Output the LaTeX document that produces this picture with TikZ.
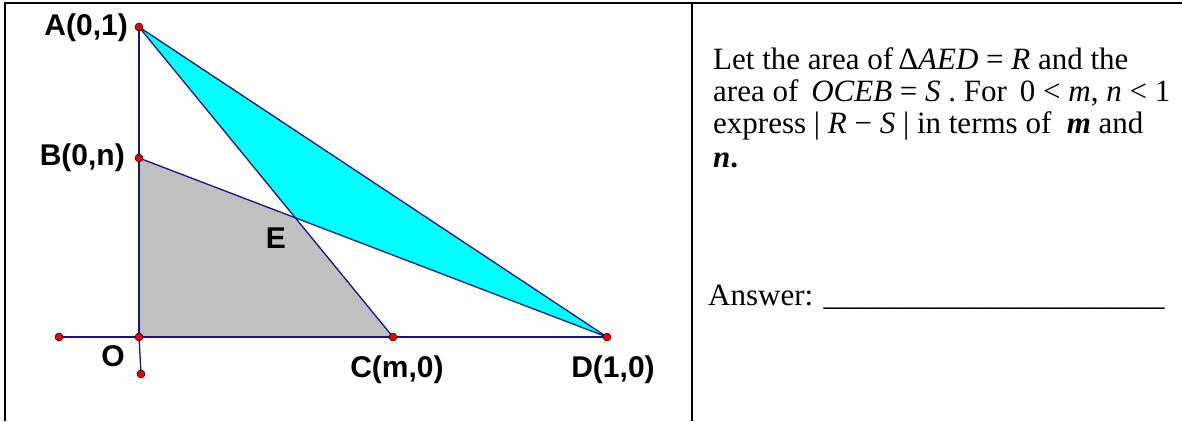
\documentclass[tikz,border=0pt]{standalone}
\usepackage{fontspec}
\setmainfont{Liberation Serif}
\newfontfamily\labfont{Liberation Sans}
\definecolor{navy}{RGB}{20,20,130}
\definecolor{cyanfill}{RGB}{0,255,255}
\definecolor{grayfill}{RGB}{192,192,192}
\definecolor{ptred}{RGB}{235,0,0}
\tikzset{
  geo/.style={draw=navy, line width=1.3pt},
  pt/.style={circle, fill=ptred, draw=black, line width=0.5pt, inner sep=0pt, minimum size=8pt},
  lab/.style={font=\labfont\bfseries\fontsize{30}{36}\selectfont, inner sep=0pt},
  txt/.style={font=\fontsize{31}{37}\selectfont, inner sep=0pt, anchor=base west},
  frame/.style={draw=black, line width=2.5pt}
}
\begin{document}
\begin{tikzpicture}[x=1pt,y=-1pt]
\useasboundingbox (0,0) rectangle (1182,421);
% table frame
\draw[frame] (5,421) -- (5,3) -- (1182,3);
\draw[frame] (692,3) -- (692,421);
% points
\coordinate (A) at (139,27);
\coordinate (B) at (139,158);
\coordinate (O) at (139,337);
\coordinate (L) at (59,337);
\coordinate (Q) at (141,374);
\coordinate (C) at (393,337);
\coordinate (D) at (607,337);
\coordinate (E) at (intersection of A--C and B--D);
% fills
\fill[cyanfill] (A) -- (E) -- (D) -- cycle;
\fill[grayfill] (O) -- (C) -- (E) -- (B) -- cycle;
% lines
\draw[geo] (A) -- (O);
\draw[geo] (O) -- (Q);
\draw[geo] (L) -- (D);
\draw[geo] (A) -- (D);
\draw[geo] (A) -- (C);
\draw[geo] (B) -- (D);
% dots
\foreach \p in {A,B,O,L,Q,C,D} \node[pt] (d\p) at (\p) {};
% labels
\node[lab, anchor=east] (lA) at (128,28) {A(0,1)};
\node[lab, anchor=east] (lB) at (125,158) {B(0,n)};
\node[lab] (lE) at (276,238) {E};
\node[lab] (lO) at (113,356) {O};
\node[lab] (lC) at (397,370) {C(m,0)};
\node[lab] (lD) at (613,370) {D(1,0)};
% text
\node[txt] (t1) at (713,69) {Let the area of\,Δ\textit{AED} = \textit{R} and the};
\node[txt] (t2) at (713,101) {area of\, \textit{OCEB} = \textit{S} . For\, 0 < \textit{m}, \textit{n} < 1};
\node[txt] (t3) at (713,133) {express | \textit{R} − \textit{S} | in terms of \ \textbf{\textit{m}} and};
\node[txt] (t4) at (713,167) {\textbf{\textit{n}.}};
\node[txt] (t5) at (708,305) {Answer: \_\_\_\_\_\_\_\_\_\_\_\_\_\_\_\_\_\_\_\_\_\_};
\end{tikzpicture}
\end{document}
